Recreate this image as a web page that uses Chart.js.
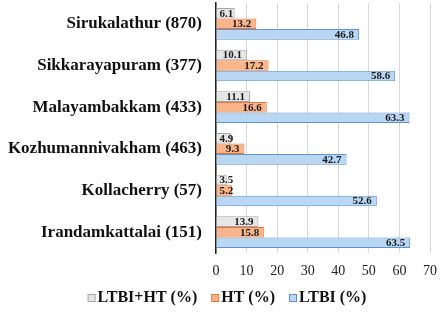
<!DOCTYPE html>
<html>
<head>
<meta charset="utf-8">
<script src="https://cdn.jsdelivr.net/npm/chart.js@4"></script>
<style>
  html, body { margin: 0; padding: 0; background: #fff; }
  #wrap { width: 447px; height: 312px; }
</style>
</head>
<body>
<div id="wrap"><canvas id="chart" width="447" height="312"></canvas></div>
<script>
// Villages (sample size) and percentages
const villages = ['Sirukalathur (870)', 'Sikkarayapuram (377)', 'Malayambakkam (433)', 'Kozhumannivakham (463)', 'Kollacherry (57)', 'Irandamkattalai (151)']
const ltbiHt = [6.1, 10.1, 11.1, 4.9, 3.5, 13.9]
const ht = [13.2, 17.2, 16.6, 9.3, 5.2, 15.8]
const ltbi = [46.8, 58.6, 63.3, 42.7, 52.6, 63.5]
const xTicks = [0, 10, 20, 30, 40, 50, 60, 70]

const serif = '"Liberation Serif", "Times New Roman", serif'

// Draw the value labels at the inside end of each bar
const barLabels = {
    id: 'barLabels',
    afterDatasetsDraw(chart) {
        const ctx = chart.ctx
        ctx.save()
        ctx.font = 'bold 11px ' + serif
        ctx.fillStyle = '#1a1a1a'
        ctx.textBaseline = 'middle'
        chart.data.datasets.forEach((ds, i) => {
            const meta = chart.getDatasetMeta(i)
            meta.data.forEach((bar, j) => {
                const text = ds.data[j].toFixed(1)
                const w = ctx.measureText(text).width
                const barW = bar.x - bar.base
                if (w + 8 > barW) {
                    ctx.textAlign = 'left'
                    ctx.fillText(text, bar.base + 3, bar.y + 0.5)
                } else {
                    ctx.textAlign = 'right'
                    ctx.fillText(text, bar.x - 5, bar.y + 0.5)
                }
            })
        })
        ctx.restore()
    }
}

// Simple legend at the bottom, Excel style (small box close to the text)
const bottomLegend = {
    id: 'bottomLegend',
    afterDraw(chart) {
        const ctx = chart.ctx
        const sets = chart.data.datasets
        const box = 7, gap = 3, spacing = 14
        ctx.save()
        ctx.font = 'bold 16px ' + serif
        ctx.textBaseline = 'middle'
        ctx.textAlign = 'left'
        const widths = sets.map(ds => box + gap + ctx.measureText(ds.label).width)
        const total = widths.reduce((a, b) => a + b, 0) + spacing * (sets.length - 1)
        let x = 227 - total / 2
        const y = 298
        sets.forEach((ds, i) => {
            ctx.fillStyle = ds.backgroundColor
            ctx.strokeStyle = ds.borderColor
            ctx.lineWidth = 1
            ctx.fillRect(x + 0.5, y - 3.5, box, box)
            ctx.strokeRect(x + 0.5, y - 3.5, box, box)
            ctx.fillStyle = '#111'
            ctx.fillText(ds.label, x + box + gap, y)
            x += widths[i] + spacing
        })
        ctx.restore()
    }
}

new Chart(document.getElementById('chart').getContext('2d'), {
    type: 'bar',
    data: {
        labels: villages,
        datasets: [
            { label: 'LTBI+HT (%)', data: ltbiHt, backgroundColor: '#e6e6e6', borderColor: '#a6a6a6', borderWidth: 1 },
            { label: 'HT (%)', data: ht, backgroundColor: '#f8b48a', borderColor: '#e8763a', borderWidth: 1 },
            { label: 'LTBI (%)', data: ltbi, backgroundColor: '#b9d6f2', borderColor: '#5b94cf', borderWidth: 1 }
        ]
    },
    options: {
        indexAxis: 'y',
        responsive: false,
        animation: false,
        categoryPercentage: 0.76,
        barPercentage: 1.0,
        layout: { padding: { top: 3, right: 4, left: 0, bottom: 30 } },
        scales: {
            x: {
                min: 0,
                max: 70,
                afterBuildTicks: (axis) => { axis.ticks = xTicks.map(v => ({ value: v })) },
                afterFit: (axis) => { axis.height = 29 },
                grid: { color: '#d9d9d9', lineWidth: 1, drawTicks: false },
                border: { display: false },
                ticks: { color: '#222', padding: 10, font: { family: serif, size: 14 } }
            },
            y: {
                afterFit: (axis) => {
                    axis.width = 216
                    axis.paddingTop = 0
                    axis.paddingBottom = 0
                },
                grid: { display: false, drawTicks: false },
                border: { display: true, color: '#222', width: 1.5 },
                ticks: { color: '#111', padding: 14, font: { family: serif, size: 17, weight: 'bold' } }
            }
        },
        plugins: {
            legend: { display: false },
            tooltip: { enabled: false }
        }
    },
    plugins: [barLabels, bottomLegend]
})
</script>
</body>
</html>
